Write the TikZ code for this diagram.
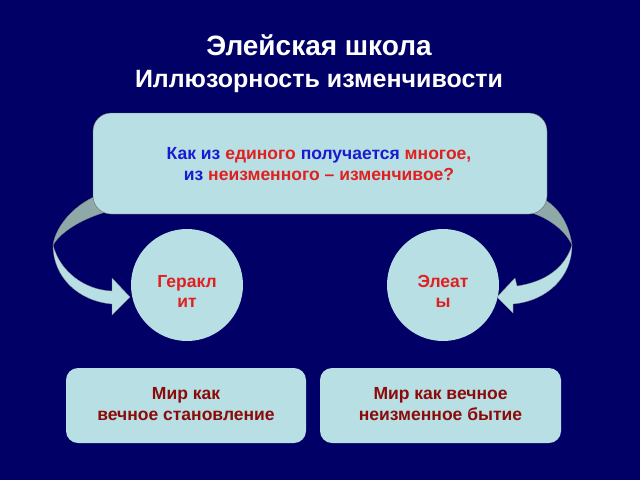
\documentclass[tikz,border=0pt]{standalone}
\usepackage{fontspec}
\setmainfont{Liberation Sans}
\definecolor{bg}{HTML}{000066}
\definecolor{lightc}{HTML}{B8DFE3}
\definecolor{darkc}{HTML}{8FA9A9}
\definecolor{qblue}{HTML}{1A1AD0}
\definecolor{qred}{HTML}{E02020}
\definecolor{dred}{HTML}{8B0A0A}
\tikzset{
  titleA/.style={anchor=base,text=white,font=\bfseries\fontsize{28}{32}\selectfont},
  titleB/.style={anchor=base,text=white,font=\bfseries\fontsize{25}{30}\selectfont},
  panel/.style={fill=lightc,draw=black!60,line width=0.4pt,rounded corners=18pt},
  lowbox/.style={fill=lightc,draw=none,rounded corners=12pt},
  person/.style={circle,fill=lightc,draw=none,minimum size=112pt,inner sep=0pt},
  txt/.style={anchor=base,inner sep=0pt,font=\bfseries\fontsize{17.5}{21}\selectfont},
  bandlight/.style={fill=lightc,draw=black!50,line width=0.3pt},
  banddark/.style={fill=darkc,draw=black!50,line width=0.3pt}
}
\begin{document}
\begin{tikzpicture}[x=1pt,y=-1pt]
\fill[bg] (0,0) rectangle (640,480);
\useasboundingbox (0,0) rectangle (640,480);
\node[titleA] (t1) at (319,55) {Элейская школа};
\node[titleB] (t2) at (319,87) {Иллюзорность изменчивости};
% dark back parts of arrows
\path[banddark] (53,245) .. controls (56,225) and (75,205) .. (96,196) -- (106,212) .. controls (85,218) and (62,230) .. (53,245) -- cycle;
\path[banddark] (572,245) .. controls (569,225) and (560,208) .. (542,198) -- (532,213) .. controls (548,218) and (565,230) .. (572,245) -- cycle;
% top box
\node[panel,minimum width=454pt,minimum height=101pt] (q) at (320,163.5) {};
\node[txt] (q1) at (319,159) {\textcolor{qblue}{Как из} \textcolor{qred}{единого} \textcolor{qblue}{получается} \textcolor{qred}{многое,}};
\node[txt] (q2) at (319,180) {\textcolor{qblue}{из} \textcolor{qred}{неизменного – изменчивое?}};
% circles
\node[person] (h) at (187,285) {};
\node[txt,text=qred] (h1) at (187,287) {Геракл};
\node[txt,text=qred] (h2) at (187,307) {ит};
\node[person] (e) at (443,285) {};
\node[txt,text=qred] (e1) at (443,287) {Элеат};
\node[txt,text=qred] (e2) at (443,307) {ы};
% light front parts of arrows
\path[bandlight] (53,245) .. controls (53,277) and (78,301) .. (112,304) -- (112,315) -- (130,297) -- (112,278) -- (112,291) .. controls (85,290) and (60,272) .. (53,245) -- cycle;
\path[bandlight] (572,245) .. controls (572,277) and (547,301) .. (513,304) -- (513,313) -- (497,297) -- (515,278) -- (517,286) .. controls (545,282) and (565,268) .. (572,245) -- cycle;
% bottom boxes
\node[lowbox,minimum width=240pt,minimum height=75pt] (b1) at (186,405.5) {};
\node[txt,text=dred] (b11) at (186,399.5) {Мир как};
\node[txt,text=dred] (b12) at (186,420.5) {вечное становление};
\node[lowbox,minimum width=241pt,minimum height=75pt] (b2) at (440.5,405.5) {};
\node[txt,text=dred] (b21) at (440.5,399.5) {Мир как вечное};
\node[txt,text=dred] (b22) at (440.5,420.5) {неизменное бытие};
\end{tikzpicture}
\end{document}
